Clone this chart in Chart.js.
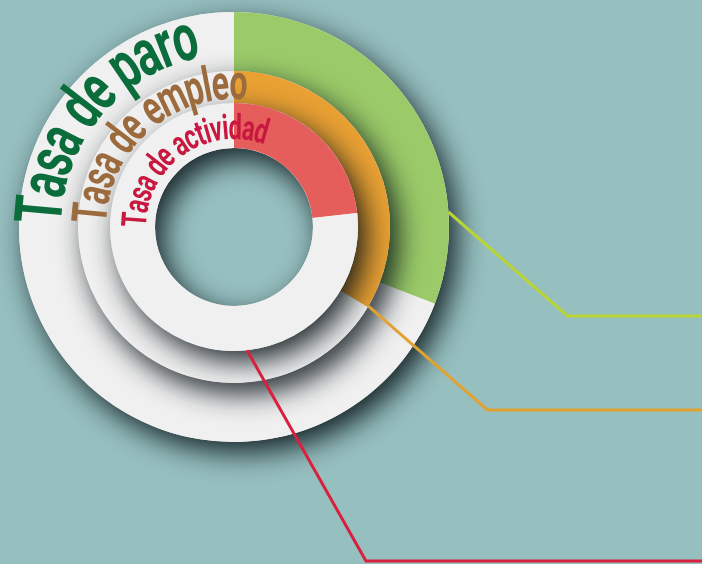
<!DOCTYPE html>
<html>
<head>
<meta charset="utf-8">
<script src="https://cdn.jsdelivr.net/npm/chart.js@4.4.0/dist/chart.umd.min.js"></script>
<style>
  html, body { margin: 0; padding: 0; background: #96bfbf; overflow: hidden; }
  #wrap { width: 702px; height: 564px; }
</style>
</head>
<body>
<div id="wrap"><canvas id="rings"></canvas></div>
<script>
// data (percent of each ring that is coloured, and the rest)
const ringLabels = ['Tasa de paro', 'Tasa de empleo', 'Tasa de actividad'];
const rateValues = [30.8, 33.6, 23.2];
const restValues = [69.2, 66.4, 76.8];

// styling
const ringColors = ['#9bcb69', '#e9a133', '#e55e5b'];
const restColor = '#f0f0f0';
const textColors = ['#0b6d3b', '#9c6b3d', '#c8183f'];
const lineColors = ['#b8d435', '#e0a332', '#d8203f'];
const ringWeights = [59, 32, 45];

// where the curved labels sit (baseline radius, font size, start/end angle in deg)
const textPlacement = [
  { baseline: 173, size: 66, from: 271, to: 349 },
  { baseline: 128, size: 49, from: 271.5, to: 365.5 },
  { baseline: 88, size: 35, from: 270, to: 380 }
];
// leader lines: angle on the ring's outer edge, then elbow level
const leaderAngles = [86, 120.5, 174];
const leaderElbowY = [316, 410, 561];

const ringShadow = {
  id: 'ringShadow',
  beforeDatasetDraw(chart, args) {
    const arc = args.meta.data[0];
    if (!arc) return;
    const ctx = chart.ctx;
    ctx.save();
    ctx.shadowColor = 'rgba(5, 15, 20, 0.88)';
    ctx.shadowBlur = 28;
    ctx.shadowOffsetX = 8;
    ctx.shadowOffsetY = 11;
    ctx.fillStyle = restColor;
    ctx.beginPath();
    ctx.arc(arc.x, arc.y, arc.outerRadius, 0, Math.PI * 2);
    ctx.arc(arc.x, arc.y, arc.innerRadius, 0, Math.PI * 2, true);
    ctx.fill();
    ctx.restore();
  }
};

function drawArcText(ctx, cx, cy, text, p, color) {
  ctx.save();
  ctx.font = 'bold ' + p.size + 'px Roboto, "DejaVu Sans", sans-serif';
  ctx.fillStyle = color;
  ctx.textAlign = 'center';
  ctx.textBaseline = 'alphabetic';
  const chars = Array.from(text);
  const widths = chars.map(c => ctx.measureText(c).width);
  const total = widths.reduce((a, b) => a + b, 0);
  const rMid = p.baseline + p.size * 0.25;
  const span = (p.to - p.from) * Math.PI / 180;
  const sx = span * rMid / total;
  let ang = p.from * Math.PI / 180;
  chars.forEach((c, i) => {
    const a = ang + widths[i] * sx / 2 / rMid;
    ctx.save();
    ctx.translate(cx, cy);
    ctx.rotate(a);
    ctx.translate(0, -p.baseline);
    ctx.scale(sx, 1);
    ctx.fillText(c, 0, 0);
    ctx.restore();
    ang += widths[i] * sx / rMid;
  });
  ctx.restore();
}

const ringDecor = {
  id: 'ringDecor',
  afterDatasetsDraw(chart) {
    const ctx = chart.ctx;
    ringLabels.forEach((label, i) => {
      const arc = chart.getDatasetMeta(i).data[0];
      drawArcText(ctx, arc.x, arc.y, label, textPlacement[i], textColors[i]);
    });
    ringLabels.forEach((label, i) => {
      const arc = chart.getDatasetMeta(i).data[0];
      const a = leaderAngles[i] * Math.PI / 180;
      const sx = arc.x + arc.outerRadius * Math.sin(a);
      const sy = arc.y - arc.outerRadius * Math.cos(a);
      ctx.save();
      ctx.strokeStyle = lineColors[i];
      ctx.lineWidth = 3;
      ctx.lineJoin = 'miter';
      ctx.beginPath();
      ctx.moveTo(sx, sy);
      ctx.lineTo(sx + 119, leaderElbowY[i]);
      ctx.lineTo(chart.width + 2, leaderElbowY[i]);
      ctx.stroke();
      ctx.restore();
    });
  }
};

new Chart(document.getElementById('rings'), {
  type: 'doughnut',
  data: {
    labels: ['tasa', 'resto'],
    datasets: ringLabels.map((label, i) => ({
      label: label,
      data: [rateValues[i], restValues[i]],
      backgroundColor: [ringColors[i], restColor],
      borderWidth: 0,
      hoverOffset: 0,
      weight: ringWeights[i],
      order: 3 - i
    }))
  },
  options: {
    responsive: true,
    maintainAspectRatio: false,
    animation: false,
    events: [],
    cutout: 79,
    layout: { padding: { left: 19, right: 253, top: 12, bottom: 122 } },
    plugins: {
      legend: { display: false },
      tooltip: { enabled: false }
    }
  },
  plugins: [ringShadow, ringDecor]
});
</script>
</body>
</html>
